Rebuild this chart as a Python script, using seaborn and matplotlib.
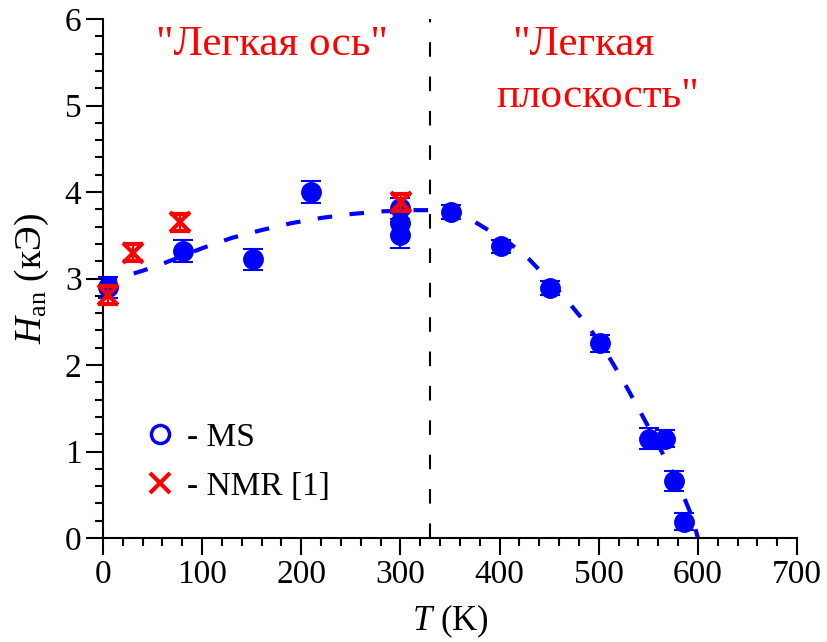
import matplotlib
matplotlib.use("Agg")
import matplotlib.pyplot as plt
from matplotlib.lines import Line2D
import seaborn as sns
import pandas as pd

# ---- data ----
ms_T = [5, 81, 151, 210, 300, 300, 300, 351, 401, 451, 501, 551, 567, 576, 586]
ms_H = [2.90, 3.32, 3.22, 4.00, 3.81, 3.64, 3.50, 3.77, 3.37, 2.89, 2.25, 1.15, 1.15, 0.66, 0.19]
ms_err = [0.12, 0.13, 0.125, 0.13, 0.12, 0.12, 0.15, 0.08, 0.08, 0.08, 0.1, 0.12, 0.1, 0.12, 0.1]

nmr_T = [5, 30, 78, 301]
nmr_H = [2.81, 3.30, 3.65, 3.88]
nmr_err = [0.1, 0.1, 0.1, 0.1]

curve_T = [0, 20, 40, 60, 80, 100, 130, 160, 190, 220, 250, 280, 310, 330, 350, 370,
           390, 410, 430, 450, 470, 490, 510, 525, 540, 555, 570, 585, 595, 600]
curve_H = [2.95, 3.02, 3.09, 3.17, 3.26, 3.35, 3.47, 3.56, 3.64, 3.70, 3.745, 3.775,
           3.79, 3.79, 3.77, 3.69, 3.55, 3.41, 3.22, 2.98, 2.72, 2.44, 2.10, 1.81, 1.50,
           1.18, 0.86, 0.50, 0.22, 0.0]

boundary_T = 330
x_ticks = [0, 100, 200, 300, 400, 500, 600, 700]
y_ticks = [0, 1, 2, 3, 4, 5, 6]

sns.set_style("ticks")
plt.rcParams['font.family'] = ['Liberation Serif', 'DejaVu Serif']
plt.rcParams['mathtext.fontset'] = 'custom'
plt.rcParams['mathtext.rm'] = 'Liberation Serif'
plt.rcParams['mathtext.it'] = 'Liberation Serif:italic'
plt.rcParams['axes.edgecolor'] = 'black'
plt.rcParams['xtick.color'] = 'black'
plt.rcParams['ytick.color'] = 'black'
plt.rcParams['text.color'] = 'black'
plt.rcParams['axes.labelcolor'] = 'black'

fig = plt.figure(figsize=(8.28, 6.42), dpi=100)
ax = fig.add_axes([103/828, 1 - 538/642, (797-103)/828, (538-19)/642])

curve_df = pd.DataFrame({"T": curve_T, "H": curve_H})
sns.lineplot(data=curve_df, x="T", y="H", ax=ax, color="#0000ff", lw=3,
             sort=False, estimator=None, zorder=2)
ax.lines[-1].set_linestyle((0, (3.5, 4.2)))

ax.axvline(boundary_T, color="black", lw=1.5, linestyle=(0, (7, 9.5)), zorder=1)

ax.errorbar(ms_T, ms_H, yerr=ms_err, fmt='o', color="#0000ff", ms=14,
            capsize=7, capthick=1.5, elinewidth=1.5, zorder=3, clip_on=False)
ax.errorbar(nmr_T, nmr_H, yerr=nmr_err, fmt='x', color="#ff0000", ms=15, mew=3,
            capsize=7, capthick=1.5, elinewidth=1.5, zorder=4, clip_on=False)

ax.set_xlim(0, 700)
ax.set_ylim(0, 6)
ax.set_xticks(x_ticks)
ax.set_yticks(y_ticks)
ax.set_xticks(range(0, 701, 20), minor=True)
ax.set_yticks([i * 0.2 for i in range(31)], minor=True)
ax.tick_params(which='major', length=12, width=1.5, labelsize=24, direction='out')
ax.tick_params(which='minor', length=6, width=1.5, direction='out')
for s in ['top', 'right']:
    ax.spines[s].set_visible(False)
for s in ['left', 'bottom']:
    ax.spines[s].set_linewidth(1.5)

ax.set_xlabel(r"$T$ (K)", fontsize=25, labelpad=9)
ax.set_ylabel(r"$H_{\mathrm{an}}$ (кЭ)", fontsize=27, labelpad=10)

ax.text(170, 5.7, '"Легкая ось"', color="#ff0000", fontsize=31, ha='center', va='center')
ax.text(485, 5.70, '"Легкая', color="#ff0000", fontsize=31, ha='center', va='center')
ax.text(499, 5.10, 'плоскость"', color="#ff0000", fontsize=31, ha='center', va='center')

handles = [
    Line2D([], [], marker='o', ls='none', mfc='none', mec="#0000ff", mew=2.5, ms=13),
    Line2D([], [], marker='x', ls='none', color="#ff0000", mew=3, ms=14),
]
ax.legend(handles, ["- MS", "- NMR [1]"], loc='center left', bbox_to_anchor=(0.058, 0.146),
          frameon=False, fontsize=24, handlelength=1, handletextpad=0.3,
          labelspacing=0.55, borderpad=0, borderaxespad=0)

fig.savefig("out.png", dpi=100)
